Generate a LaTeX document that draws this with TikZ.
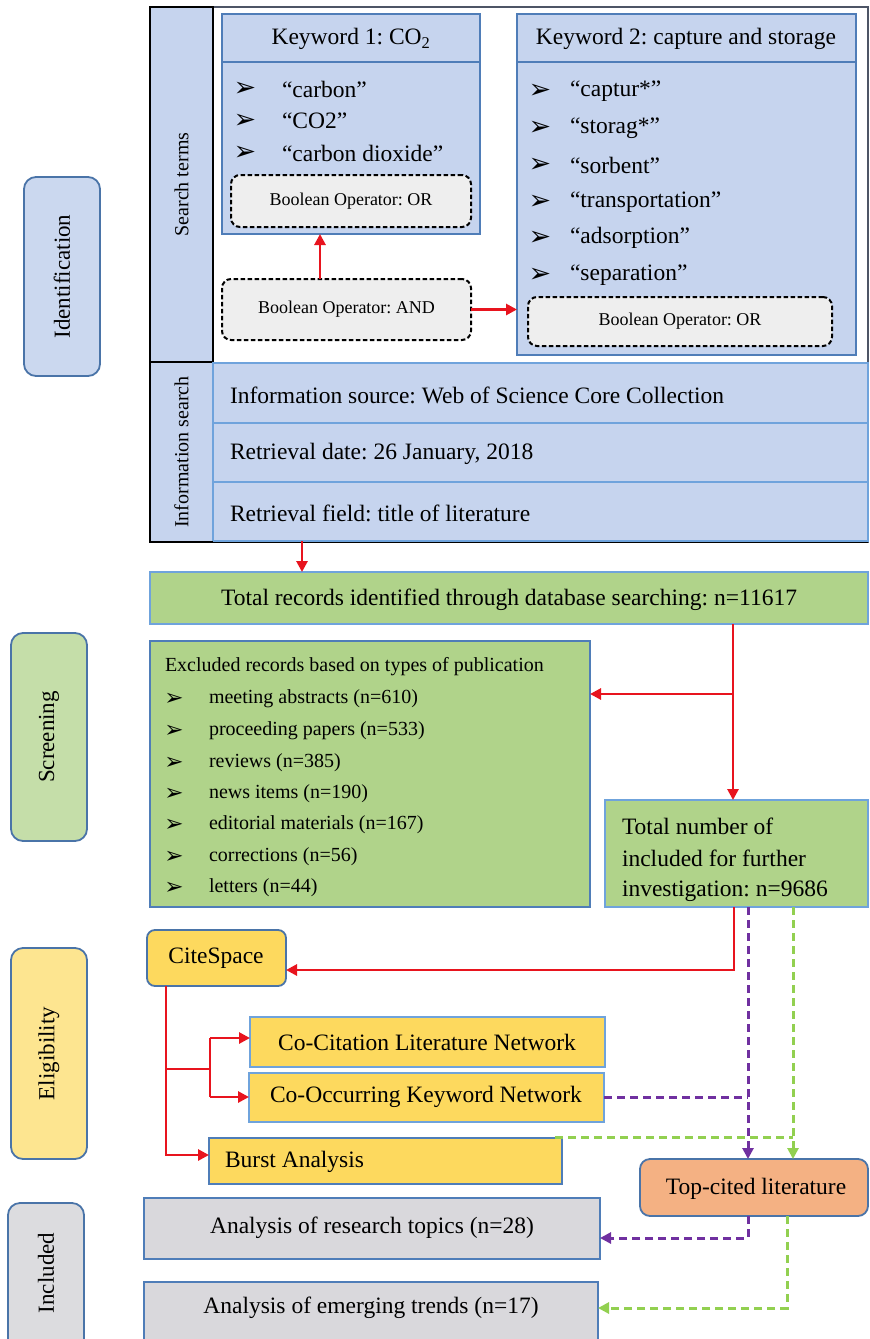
\documentclass[tikz,border=0pt]{standalone}
\usepackage{fontspec}
\setmainfont{Liberation Serif}
\newfontfamily\dejavu{DejaVu Sans}
\usetikzlibrary{arrows.meta}
\definecolor{cBlue}{HTML}{C6D4EE}
\definecolor{cKB}{HTML}{4F7DB8}
\definecolor{cLB}{HTML}{6FA3DC}
\definecolor{cGreen}{HTML}{B0D38A}
\definecolor{cYellow}{HTML}{FDD95E}
\definecolor{cGray}{HTML}{D9D8DC}
\definecolor{cOrange}{HTML}{F4B183}
\definecolor{cIdF}{HTML}{CBD8EF}
\definecolor{cScF}{HTML}{C5DEA9}
\definecolor{cElF}{HTML}{FDE590}
\definecolor{cInF}{HTML}{DCDCDF}
\definecolor{cSide}{HTML}{4A74A8}
\definecolor{cDash}{HTML}{EEEEEE}
\definecolor{cRed}{HTML}{E8141E}
\definecolor{cPur}{HTML}{7030A0}
\definecolor{cLime}{HTML}{92D050}
\definecolor{cFrame}{HTML}{4D5566}
\begin{document}
\frenchspacing
\begin{tikzpicture}[x=1pt,y=-1pt,
  every node/.style={inner sep=0pt, outer sep=0pt},
  bx/.style={draw=#1, anchor=north west, line width=1.8pt},
  sidebox/.style={draw=cSide, anchor=north west, line width=1.8pt, rounded corners=12pt},
  dbox/.style={draw=black, fill=cDash, anchor=north west, line width=2pt, dash pattern=on 4.5pt off 2.5pt, rounded corners=9pt},
  fm/.style={font=\fontsize{23.5}{28}\selectfont},
  fs/.style={font=\fontsize{20}{24}\selectfont},
  fb/.style={font=\fontsize{18}{22}\selectfont},
  fside/.style={font=\fontsize{23}{27}\selectfont},
  fcol/.style={font=\fontsize{20}{24}\selectfont},
  bul/.style={font=\dejavu\fontsize{27}{30}\selectfont},
  buls/.style={font=\dejavu\fontsize{23}{26}\selectfont},
  redln/.style={draw=cRed, line width=2.8pt},
  redar/.style={redln, -{Triangle[length=11pt,width=11pt]}},
  purln/.style={draw=cPur, line width=3pt, dash pattern=on 8pt off 5pt},
  purar/.style={purln, -{Triangle[length=11pt,width=11pt]}},
  limln/.style={draw=cLime, line width=3pt, dash pattern=on 8pt off 5pt},
  limar/.style={limln, -{Triangle[length=11pt,width=11pt]}}
]
\fill[white] (0,0) rectangle (870,1339);
\useasboundingbox (0,0) rectangle (870,1339);

% ---------- side labels ----------
\node[sidebox, fill=cIdF, minimum width=76, minimum height=199] (idlab) at (24,177) {};
\node[fside, rotate=90] (idtxt) at (idlab.center) {Identification};
\node[sidebox, fill=cScF, minimum width=76, minimum height=208] (sclab) at (11,633) {};
\node[fside, rotate=90] (sctxt) at (sclab.center) {Screening};
\node[sidebox, fill=cElF, minimum width=76, minimum height=211] (ellab) at (11,948) {};
\node[fside, rotate=90] (eltxt) at (ellab.center) {Eligibility};
\node[sidebox, fill=cInF, minimum width=76, minimum height=160] (inlab) at (8,1203) {};
\node[fside, rotate=90] (intxt) at (46,1273) {Included};

% ---------- identification frame ----------
\node[bx=cFrame, fill=white, minimum width=718, minimum height=535] (frame) at (150,7) {};
\node[bx=black, fill=cBlue, minimum width=63, minimum height=355] (stcol) at (150,7) {};
\node[fcol, rotate=90] (sttxt) at (stcol.center) {Search terms};
\node[bx=black, fill=cBlue, minimum width=63, minimum height=180] (iscol) at (150,362) {};
\node[fcol, rotate=90] (istxt) at (iscol.center) {Information search};
\draw[black, line width=2.2pt] (frame.north west) -- (frame.south west) -- (frame.south east);

% Keyword 1
\node[bx=cKB, fill=cBlue, minimum width=258, minimum height=220] (kw1) at (222,14) {};
\draw[cKB, line width=1.8pt] (222,62) -- (480,62);
\node[fm] (kw1h) at (351,39) {Keyword 1: CO\textsubscript{2}};
\node[bul] (b11) at (245,89) {➢};
\node[fm, anchor=west] (t11) at (282,89) {“carbon”};
\node[bul] (b12) at (245,121) {➢};
\node[fm, anchor=west] (t12) at (282,121) {“CO2”};
\node[bul] (b13) at (245,153) {➢};
\node[fm, anchor=west] (t13) at (282,153) {“carbon dioxide”};
\node[dbox, minimum width=240, minimum height=52] (or1) at (231,175) {};
\node[fb] (or1t) at (or1.center) {Boolean Operator: OR};

% Keyword 2
\node[bx=cKB, fill=cBlue, minimum width=339, minimum height=341] (kw2) at (517,14) {};
\draw[cKB, line width=1.8pt] (517,62) -- (856,62);
\node[fm] (kw2h) at (686,39) {Keyword 2: capture and storage};
\node[bul] (b21) at (540,91) {➢};
\node[fm, anchor=west] (t21) at (570,91) {“captur*”};
\node[bul] (b22) at (540,128) {➢};
\node[fm, anchor=west] (t22) at (570,128) {“storag*”};
\node[bul] (b23) at (540,165) {➢};
\node[fm, anchor=west] (t23) at (570,165) {“sorbent”};
\node[bul] (b24) at (540,202) {➢};
\node[fm, anchor=west] (t24) at (570,202) {“transportation”};
\node[bul] (b25) at (540,238) {➢};
\node[fm, anchor=west] (t25) at (570,238) {“adsorption”};
\node[bul] (b26) at (540,275) {➢};
\node[fm, anchor=west] (t26) at (570,275) {“separation”};
\node[dbox, minimum width=304, minimum height=49] (or2) at (528,297) {};
\node[fb] (or2t) at (or2.center) {Boolean Operator: OR};

% AND
\node[dbox, minimum width=249, minimum height=61] (and) at (222,279) {};
\node[fb] (andt) at (and.center) {Boolean Operator: AND};
\draw[redar] (and.north -| 320,0) -- (kw1.south -| 320,0);
\draw[redar] (and.east) -- (and.east -| kw2.west);

% Information search rows
\node[bx=cLB, fill=cBlue, minimum width=655, minimum height=60] (inf1) at (213,363) {};
\node[fm, anchor=west] (inf1t) at (230,395) {Information source: Web of Science Core Collection};
\node[bx=cLB, fill=cBlue, minimum width=655, minimum height=59] (inf2) at (213,423) {};
\node[fm, anchor=west] (inf2t) at (230,454) {Retrieval date: 26 January, 2018};
\node[bx=cLB, fill=cBlue, minimum width=655, minimum height=59] (inf3) at (213,482) {};
\node[fm, anchor=west] (inf3t) at (230,513) {Retrieval field: title of literature};
\draw[black, line width=2.2pt] (iscol.north west) -- (iscol.south west) -- (iscol.south east);

% ---------- screening ----------
\node[bx=cLB, fill=cGreen, minimum width=718, minimum height=52] (tot) at (150,572) {};
\node[fm] (tott) at (509,600) {Total records identified through database searching: n=11617};
\coordinate (a1) at (302,541);
\draw[redar] (a1) -- (a1 |- tot.north);

\node[bx=cKB, fill=cGreen, minimum width=440, minimum height=266] (excl) at (150,641) {};
\node[fs, anchor=west] (exh) at (165,667) {Excluded records based on types of publication};
\foreach \yy/\tx/\nm in {699/meeting abstracts (n=610)/e1, 731/proceeding papers (n=533)/e2, 763/reviews (n=385)/e3, 794/news items (n=190)/e4, 825/editorial materials (n=167)/e5, 857/corrections (n=56)/e6, 888/letters (n=44)/e7}{
  \node[buls] (\nm b) at (174,\yy) {➢};
  \node[fs, anchor=west] (\nm t) at (209,\yy) {\tx};
}

\node[bx=cLB, fill=cGreen, minimum width=263, minimum height=107] (totn) at (605,800) {};
\node[fm, anchor=west] (totn1) at (622,826) {Total number of};
\node[fm, anchor=west] (totn2) at (622,858) {included for further};
\node[fm, anchor=west] (totn3) at (622,891) {investigation: n=9686};

\coordinate (a2) at (733,624);
\draw[redar] (a2) -- (a2 |- totn.north);
\coordinate (a3) at (733,694);
\draw[redar] (a3) -- (a3 -| excl.east);

% ---------- eligibility ----------
\node[bx=cSide, fill=cYellow, rounded corners=8pt, minimum width=139, minimum height=56] (cite) at (147,930) {};
\node[fm] (citet) at (216,958) {CiteSpace};
\coordinate (a4) at (734,907);
\coordinate (a5) at (734,970);
\draw[redar] (a4) -- (a5) -- (a5 -| cite.east);

\node[bx=cLB, fill=cYellow, minimum width=355, minimum height=50] (cocit) at (250,1017) {};
\node[fm] (cocitt) at (427,1042) {Co-Citation Literature Network};
\node[bx=cLB, fill=cYellow, minimum width=355, minimum height=49] (cooc) at (249,1073) {};
\node[fm] (cooct) at (426,1097) {Co-Occurring Keyword Network};
\node[bx=cKB, fill=cYellow, minimum width=353, minimum height=46] (burst) at (209,1138) {};
\node[fm, anchor=west] (burstt) at (225,1162) {Burst Analysis};

\coordinate (c0) at (166,986);
\coordinate (c1) at (166,1155);
\draw[redar] (c0) -- (c1) -- (c1 -| burst.west);
\coordinate (c2) at (166,1069);
\coordinate (c3) at (210,1069);
\draw[redln] (c2) -- (c3);
\coordinate (c4) at (210,1038);
\coordinate (c5) at (210,1097);
\draw[redln] (c4) -- (c5);
\draw[redar] (c4) -- (c4 -| cocit.west);
\draw[redar] (c5) -- (c5 -| cooc.west);

% Top-cited
\node[bx=cSide, fill=cOrange, rounded corners=10pt, minimum width=228, minimum height=57] (top) at (640,1159) {};
\node[fm] (topt) at (756,1189) {Top-cited literature};

\coordinate (p0) at (748,907);
\draw[purar] (p0) -- (p0 |- top.north);
\coordinate (p1) at (748,1097);
\draw[purln] (cooc.east |- p1) -- (p1);
\coordinate (g0) at (793,907);
\draw[limar] (g0) -- (g0 |- top.north);
\coordinate (g1) at (793,1137);
\coordinate (g2) at (555,1137);
\draw[limln] (g2) -- (g1);

% ---------- included ----------
\node[bx=cKB, fill=cGray, minimum width=456, minimum height=61] (res) at (144,1198) {};
\node[fm] (rest) at (372,1228) {Analysis of research topics (n=28)};
\node[bx=cKB, fill=cGray, minimum width=454, minimum height=70] (trend) at (144,1282) {};
\node[fm] (trendt) at (371,1308) {Analysis of emerging trends (n=17)};

\coordinate (p2) at (748,1216);
\coordinate (p3) at (748,1238);
\draw[purar] (p2) -- (p3) -- (p3 -| res.east);
\coordinate (g3) at (787,1216);
\coordinate (g4) at (787,1308);
\draw[limar] (g3) -- (g4) -- (g4 -| trend.east);
\end{tikzpicture}
\end{document}
